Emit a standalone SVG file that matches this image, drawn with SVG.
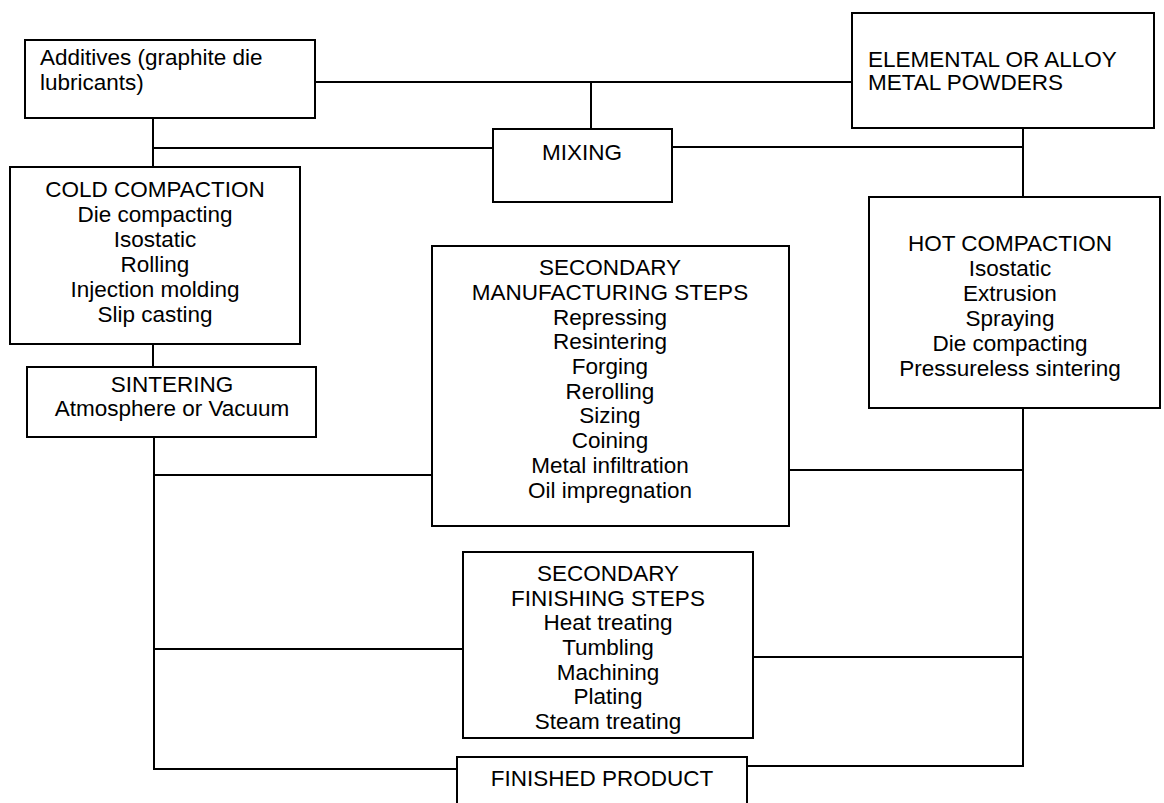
<svg xmlns="http://www.w3.org/2000/svg" width="1164" height="803" viewBox="0 0 1164 803">
<style>
.box{fill:#fff;stroke:#000;stroke-width:2}
.ln{fill:none;stroke:#000;stroke-width:2}
text{font-family:"Liberation Sans",Arial,sans-serif;font-size:22.5px;fill:#000}
.c{text-anchor:middle}
</style>
<defs>
<clipPath id="sfsclip"><rect x="464" y="553" width="288" height="181"/></clipPath>
</defs>
<rect width="1164" height="803" fill="#fff"/>
<g id="connectors">
<path class="ln" d="M315 82H852"/>
<path class="ln" d="M591 82V129"/>
<path class="ln" d="M153 118V167"/>
<path class="ln" d="M153 148H493"/>
<path class="ln" d="M672 147H1023"/>
<path class="ln" d="M1023 128V197"/>
<path class="ln" d="M153 344V367"/>
<path class="ln" d="M154 437V769H457"/>
<path class="ln" d="M154 475H432"/>
<path class="ln" d="M154 649H463"/>
<path class="ln" d="M1023 408V766H748"/>
<path class="ln" d="M789 470H1023"/>
<path class="ln" d="M753 657H1023"/>
</g>
<g id="additives">
<rect class="box" x="25" y="40" width="290" height="78"/>
<text x="40" y="65">Additives (graphite die</text>
<text x="40" y="90">lubricants)</text>
</g>
<g id="elemental">
<rect class="box" x="852" y="13" width="302" height="115"/>
<text x="868" y="67">ELEMENTAL OR ALLOY</text>
<text x="868" y="90">METAL POWDERS</text>
</g>
<g id="mixing">
<rect class="box" x="493" y="129" width="179" height="73"/>
<text class="c" x="582" y="160">MIXING</text>
</g>
<g id="cold">
<rect class="box" x="10" y="167" width="290" height="177"/>
<text class="c" x="155" y="197">COLD COMPACTION</text>
<text class="c" x="155" y="222">Die compacting</text>
<text class="c" x="155" y="247">Isostatic</text>
<text class="c" x="155" y="272">Rolling</text>
<text class="c" x="155" y="297">Injection molding</text>
<text class="c" x="155" y="322">Slip casting</text>
</g>
<g id="sintering">
<rect class="box" x="27" y="367" width="289" height="70"/>
<text class="c" x="172" y="392">SINTERING</text>
<text class="c" x="172" y="416">Atmosphere or Vacuum</text>
</g>
<g id="hot">
<rect class="box" x="869" y="197" width="291" height="211"/>
<text class="c" x="1010" y="251">HOT COMPACTION</text>
<text class="c" x="1010" y="276">Isostatic</text>
<text class="c" x="1010" y="301">Extrusion</text>
<text class="c" x="1010" y="326">Spraying</text>
<text class="c" x="1010" y="351">Die compacting</text>
<text class="c" x="1010" y="376">Pressureless sintering</text>
</g>
<g id="secondary-manufacturing">
<rect class="box" x="432" y="246" width="357" height="280"/>
<text class="c" x="610" y="275">SECONDARY</text>
<text class="c" x="610" y="300">MANUFACTURING STEPS</text>
<text class="c" x="610" y="325">Repressing</text>
<text class="c" x="610" y="349">Resintering</text>
<text class="c" x="610" y="374">Forging</text>
<text class="c" x="610" y="399">Rerolling</text>
<text class="c" x="610" y="423">Sizing</text>
<text class="c" x="610" y="448">Coining</text>
<text class="c" x="610" y="473">Metal infiltration</text>
<text class="c" x="610" y="498">Oil impregnation</text>
</g>
<g id="secondary-finishing">
<rect class="box" x="463" y="552" width="290" height="186"/>
<g clip-path="url(#sfsclip)">
<text class="c" x="608" y="581">SECONDARY</text>
<text class="c" x="608" y="606">FINISHING STEPS</text>
<text class="c" x="608" y="630">Heat treating</text>
<text class="c" x="608" y="655">Tumbling</text>
<text class="c" x="608" y="680">Machining</text>
<text class="c" x="608" y="704">Plating</text>
<text class="c" x="608" y="729">Steam treating</text>
</g>
</g>
<g id="finished">
<path class="box" d="M457 804V757H747V804"/>
<text class="c" x="602" y="786">FINISHED PRODUCT</text>
</g>
</svg>
